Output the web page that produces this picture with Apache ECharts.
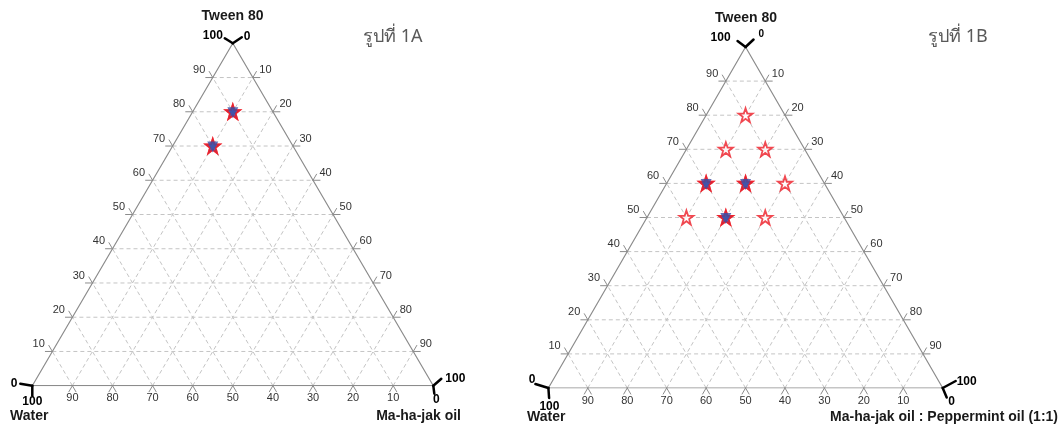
<!DOCTYPE html>
<html><head><meta charset="utf-8">
<script src="https://cdn.jsdelivr.net/npm/echarts@6/dist/echarts.min.js"></script>
<style>html,body{margin:0;padding:0;background:#fff}#c{width:1062px;height:428px}</style>
</head><body><div id="c"></div>
<script>
// ---- data ----
const gridValues = [10, 20, 30, 40, 50, 60, 70, 80, 90];
const leftTickLabels = ['10', '20', '30', '40', '50', '60', '70', '80', '90'];     // Tween 80 at T = gridValues
const rightTickLabels = ['90', '80', '70', '60', '50', '40', '30', '20', '10'];    // oil at T = gridValues
const bottomTickLabels = ['90', '80', '70', '60', '50', '40', '30', '20', '10'];   // water at oil = gridValues
const apexLabels = ['100', '0'];      // Tween 80 = 100, oil = 0
const leftCornerLabels = ['0', '100'];  // Tween 80 = 0, water = 100
const rightCornerLabels = ['100', '0']; // oil = 100, water = 0
const titles = ['รูปที่ 1A', 'รูปที่ 1B'];
const topNames = ['Tween 80', 'Tween 80'];
const leftNames = ['Water', 'Water'];
const rightNames = ['Ma-ha-jak oil', 'Ma-ha-jak oil : Peppermint oil (1:1)'];

// points: Tween 80 (%) and oil (%) ; water = 100 - both
const testedA_tween = [80, 70];
const testedA_oil = [10, 10];
const formedA_tween = [80, 70];
const formedA_oil = [10, 10];
const testedB_tween = [80, 70, 70, 60, 60, 60, 50, 50, 50];
const testedB_oil = [10, 10, 20, 10, 20, 30, 10, 20, 30];
const formedB_tween = [60, 60, 50];
const formedB_oil = [10, 20, 20];

// ---- helpers ----
const FONT = '"Liberation Sans", Arial, sans-serif';
function toXY(t, o) { return [o + t / 2, t]; }
function norm(v) { const l = Math.hypot(v[0], v[1]); return [v[0] / l, v[1] / l]; }
function seg(p, d, color, w) {
  return { type: 'line', shape: { x1: p[0], y1: p[1], x2: p[0] + d[0], y2: p[1] + d[1] },
    style: { stroke: color, lineWidth: w, lineCap: 'round' } };
}
function txt(s, x, y, align, size, weight, color) {
  return { type: 'text', style: { text: s, x: x, y: y, align: align, verticalAlign: 'middle',
    font: (weight || 'normal') + ' ' + size + 'px ' + FONT, fill: color } };
}

const layouts = [
  { grid: { left: 32.3, top: 43.3, width: 401, height: 342.4 },
    apexArms: [[-8, -5], [9, -6]], blArms: [[-12, -2], [0, 10]], brArms: [[8, -7], [1, 8]],
    apexLab: [[-10, -8, 'right', 12], [11, -7, 'left', 12]],
    blLab: [[-15, -2, 'right', 12], [0, 15.5, 'center', 12]],
    brLab: [[12, -7, 'left', 12], [3, 13.5, 'center', 12]],
    titlePos: [363, 40], topPos: [232.5, 16], leftPos: [10, 416], rightPos: [461, 416] },
  { grid: { left: 548.4, top: 47, width: 394.3, height: 341 },
    apexArms: [[-8, -6], [8, -7.5]], blArms: [[-13, -4], [0.7, 10]], brArms: [[13, -7], [4, 9.5]],
    apexLab: [[-15, -9, 'right', 12], [13, -13, 'left', 10]],
    blLab: [[-13, -8, 'right', 12], [1, 19, 'center', 12]],
    brLab: [[14, -6, 'left', 12], [9, 14, 'center', 12]],
    titlePos: [928, 40], topPos: [746, 18], leftPos: [527, 417], rightPos: [1058, 417] }
];

const pointSets = [
  { tested: [testedA_tween, testedA_oil], formed: [formedA_tween, formedA_oil] },
  { tested: [testedB_tween, testedB_oil], formed: [formedB_tween, formedB_oil] }
];

const STAR = 'path://M50,0 L61.8,34.5 L97.6,34.5 L68.8,55.9 L79.4,90.5 L50,69 L20.6,90.5 L31.2,55.9 L2.4,34.5 L38.2,34.5 Z';

const grids = [], xAxes = [], yAxes = [], series = [], graphics = [];

layouts.forEach(function (L, ci) {
  grids.push(L.grid);
  xAxes.push({ type: 'value', gridIndex: ci, min: 0, max: 100, show: false });
  yAxes.push({ type: 'value', gridIndex: ci, min: 0, max: 100, show: false });

  // dashed grid lines
  series.push({
    type: 'custom', xAxisIndex: ci, yAxisIndex: ci, silent: true, z: 1, clip: false,
    data: gridValues.map(function (v) { return [v, v]; }),
    renderItem: function (params, api) {
      const k = gridValues[params.dataIndex];
      const st = { stroke: '#c4c4c4', lineWidth: 1, lineDash: [4, 3] };
      const lines = [
        [toXY(k, 0), toXY(k, 100 - k)],
        [toXY(0, k), toXY(100 - k, k)],
        [toXY(0, 100 - k), toXY(100 - k, 0)]
      ];
      return { type: 'group', children: lines.map(function (ln) {
        const a = api.coord(ln[0]), b = api.coord(ln[1]);
        return { type: 'line', shape: { x1: a[0], y1: a[1], x2: b[0], y2: b[1] }, style: st };
      }) };
    }
  });

  // triangle edges
  series.push({
    type: 'line', xAxisIndex: ci, yAxisIndex: ci, silent: true, z: 2, symbol: 'none',
    lineStyle: { color: '#8c8c8c', width: 1.2 },
    data: [toXY(100, 0), toXY(0, 100), toXY(0, 0), toXY(100, 0)]
  });

  // ticks + tick labels + corner marks
  series.push({
    type: 'custom', xAxisIndex: ci, yAxisIndex: ci, silent: true, z: 3, clip: false,
    data: gridValues.map(function (v) { return [v, v]; }),
    renderItem: function (params, api) {
      const i = params.dataIndex, k = gridValues[i];
      const apex = api.coord(toXY(100, 0)), bl = api.coord(toXY(0, 0)), br = api.coord(toXY(0, 100));
      const uL = norm([apex[0] - bl[0], apex[1] - bl[1]]);
      const uR = norm([br[0] - apex[0], br[1] - apex[1]]);
      const T = 7, c = '#8c8c8c', lc = '#333333';
      const ch = [];
      const pL = api.coord(toXY(k, 0));
      ch.push(seg(pL, [-T, 0], c, 1), seg(pL, [-uR[0] * T, -uR[1] * T], c, 1));
      ch.push(txt(leftTickLabels[i], pL[0] - 7.5, pL[1] - 7.5, 'right', 11, 'normal', lc));
      const pR = api.coord(toXY(k, 100 - k));
      ch.push(seg(pR, [T, 0], c, 1), seg(pR, [uL[0] * T, uL[1] * T], c, 1));
      ch.push(txt(rightTickLabels[i], pR[0] + 6.5, pR[1] - 7.5, 'left', 11, 'normal', lc));
      const pB = api.coord(toXY(0, k));
      ch.push(seg(pB, [-uL[0] * T, -uL[1] * T], c, 1), seg(pB, [uR[0] * T, uR[1] * T], c, 1));
      ch.push(txt(bottomTickLabels[i], pB[0], pB[1] + 12.5, 'center', 11, 'normal', lc));
      if (i === 0) {
        [[apex, L.apexArms, L.apexLab, apexLabels], [bl, L.blArms, L.blLab, leftCornerLabels],
         [br, L.brArms, L.brLab, rightCornerLabels]].forEach(function (cn) {
          const p = cn[0];
          cn[1].forEach(function (d) { ch.push(seg(p, d, '#000', 2.5)); });
          cn[2].forEach(function (o, j) {
            ch.push(txt(cn[3][j], p[0] + o[0], p[1] + o[1], o[2], o[3], 'bold', '#000'));
          });
        });
      }
      return { type: 'group', children: ch };
    }
  });

  const ps = pointSets[ci];
  const formedXY = ps.formed[0].map(function (t, j) { return toXY(t, ps.formed[1][j]); });
  series.push({
    type: 'scatter', xAxisIndex: ci, yAxisIndex: ci, z: 5, symbol: STAR, symbolSize: 14,
    itemStyle: { color: '#ffffff', borderColor: '#ee1c25', borderWidth: 1.8 },
    data: ps.tested[0].map(function (t, j) { return toXY(t, ps.tested[1][j]); })
  });
  series.push({
    type: 'scatter', xAxisIndex: ci, yAxisIndex: ci, z: 6, symbol: STAR, symbolSize: 14,
    itemStyle: { color: '#3a4ea6', borderColor: '#ee1c25', borderWidth: 1.8 },
    data: formedXY
  });
  series.push({
    type: 'scatter', xAxisIndex: ci, yAxisIndex: ci, z: 7, symbol: 'triangle', symbolRotate: 180,
    symbolSize: 11, symbolOffset: [0, 1],
    itemStyle: { color: '#3a4ea6' },
    data: formedXY
  });

  graphics.push(
    { type: 'text', left: L.titlePos[0], top: L.titlePos[1] - 12,
      style: { text: titles[ci], font: 'normal 18px "Noto Sans", "DejaVu Sans", sans-serif', fill: '#595959' } },
    { type: 'text', x: L.topPos[0], y: L.topPos[1],
      style: { text: topNames[ci], align: 'center', verticalAlign: 'middle', font: 'bold 14px ' + FONT, fill: '#1a1a1a' } },
    { type: 'text', x: L.leftPos[0], y: L.leftPos[1],
      style: { text: leftNames[ci], align: 'left', verticalAlign: 'middle', font: 'bold 14px ' + FONT, fill: '#1a1a1a' } },
    { type: 'text', x: L.rightPos[0], y: L.rightPos[1],
      style: { text: rightNames[ci], align: 'right', verticalAlign: 'middle', font: 'bold 14px ' + FONT, fill: '#1a1a1a' } }
  );
});

const chart = echarts.init(document.getElementById('c'));
chart.setOption({
  animation: false,
  backgroundColor: '#ffffff',
  grid: grids, xAxis: xAxes, yAxis: yAxes,
  series: series, graphic: graphics
});
</script></body></html>
